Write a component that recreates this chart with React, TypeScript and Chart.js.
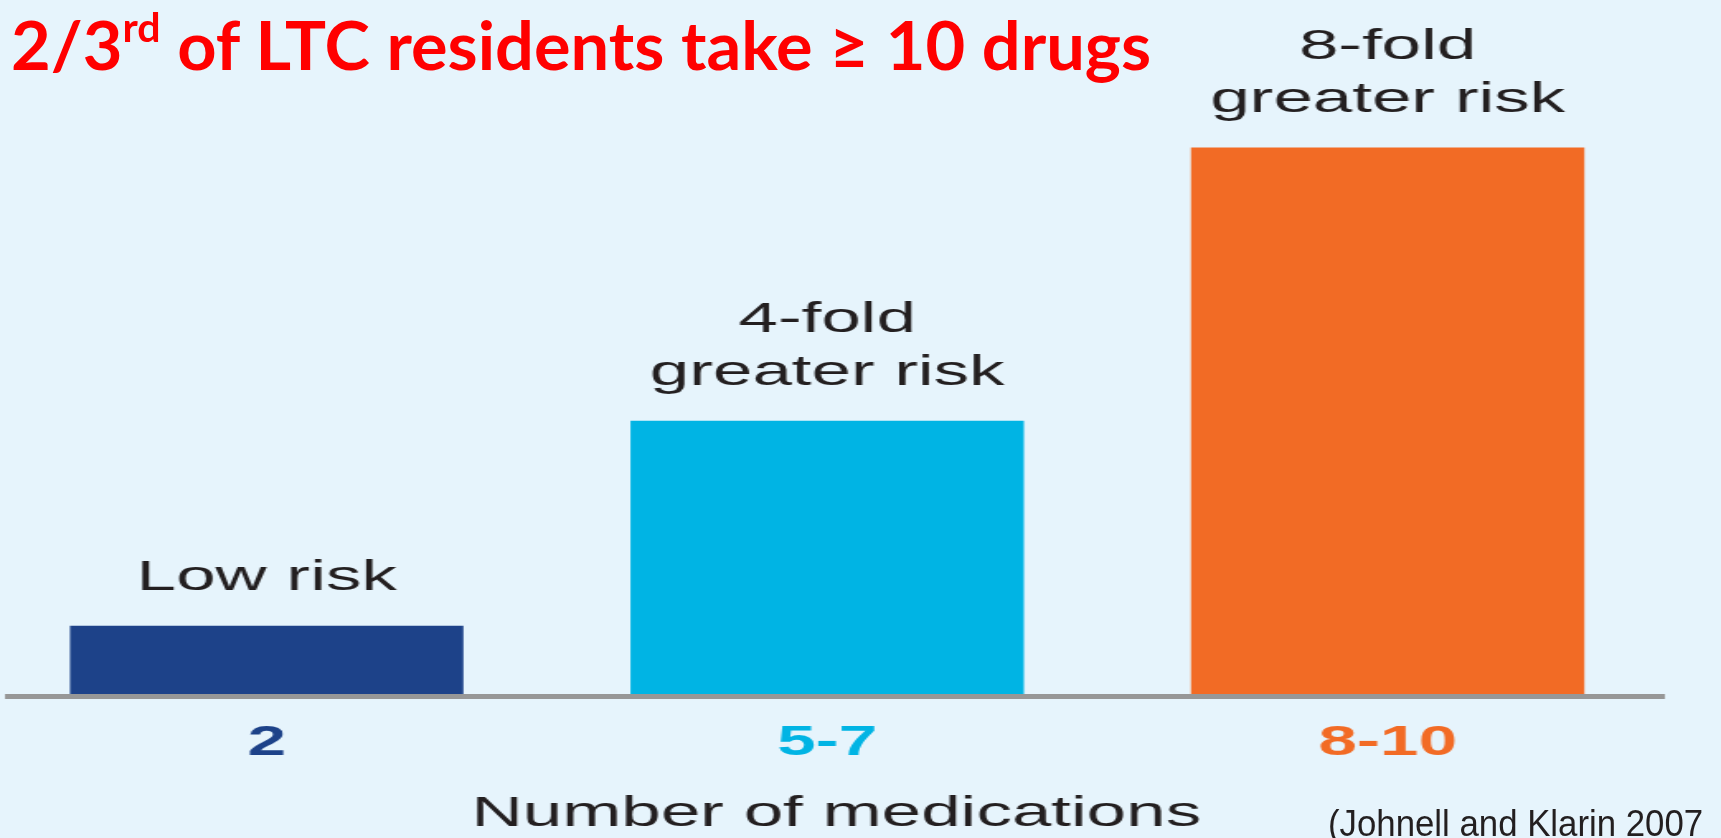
import React, { useEffect, useRef } from "react";
import { Chart, registerables } from "chart.js";

Chart.register(...registerables);

// Number-of-medications groups and their relative fall risk (fold increase)
const categories = ["2", "5-7", "8-10"];
const relativeRisk = [1, 4, 8];
const riskCaptions = [["Low risk"], ["4-fold", "greater risk"], ["8-fold", "greater risk"]];
const barColors = ["#1d4289", "#00b4e4", "#f26b25"];
const xAxisTitle = "Number of medications";
const citation = "(Johnell and Klarin 2007";

const PAGE_W = 1721;
const PAGE_H = 838;
// the figure is drawn narrow and widened on screen
const STRETCH = 1.65;
const CANVAS_W = Math.round(PAGE_W / STRETCH);

const SANS = "'Liberation Sans', Arial, Helvetica, sans-serif";

// Captions stacked above each bar, anchored to the bar tops
const barCaptions = {
  id: "barCaptions",
  afterDatasetsDraw(chart: any) {
    const meta = chart.getDatasetMeta(0);
    const ctx = chart.ctx as CanvasRenderingContext2D;
    ctx.save();
    ctx.font = `43px ${SANS}`;
    ctx.fillStyle = "#231f20";
    ctx.textAlign = "center";
    ctx.textBaseline = "alphabetic";
    meta.data.forEach((bar: any, i: number) => {
      const lines = riskCaptions[i];
      const { x, y } = bar.getProps(["x", "y"], true);
      lines.forEach((line, j) => {
        const lineY = y - 36 - (lines.length - 1 - j) * 53;
        ctx.fillText(line, x, lineY);
      });
    });
    ctx.restore();
  },
};

function FallRiskChart() {
  const canvasRef = useRef<HTMLCanvasElement | null>(null);

  useEffect(() => {
    const canvas = canvasRef.current;
    if (!canvas) return;
    const chart = new Chart(canvas, {
      type: "bar",
      data: {
        datasets: [
          {
            data: categories.map((_, i) => ({ x: i, y: relativeRisk[i] })),
            backgroundColor: barColors,
            borderWidth: 0,
            categoryPercentage: 1,
            barPercentage: 0.702,
          },
        ],
      },
      options: {
        animation: false,
        responsive: false,
        devicePixelRatio: 1,
        layout: { padding: { left: 5.45, right: 34.8, top: 11, bottom: 0 } },
        plugins: {
          legend: { display: false },
          tooltip: { enabled: false },
          title: { display: false },
        },
        scales: {
          x: {
            type: "linear",
            bounds: "data",
            offset: false,
            min: -0.4597,
            max: 2.4923,
            afterBuildTicks: (axis: any) => {
              axis.ticks = categories.map((_, i) => ({ value: i }));
            },
            grid: { display: false, drawTicks: false, offset: false },
            border: { display: true, color: "#979797", width: 5, z: 1 },
            ticks: {
              autoSkip: false,
              maxRotation: 0,
              padding: 22.05,
              callback: (v: any) => categories[Number(v)] ?? "",
              color: (c: any) => barColors[c.index] ?? "#231f20",
              font: { family: SANS, size: 42, weight: "bold" },
            },
            title: {
              display: true,
              text: xAxisTitle,
              color: "#231f20",
              font: { family: SANS, size: 43, lineHeight: 1 },
              padding: { top: 2, bottom: 2 },
            },
          },
          y: { display: false, min: -0.0366, max: 10 },
        },
      },
      plugins: [barCaptions],
    } as any);
    return () => chart.destroy();
  }, []);

  return (
    <canvas
      ref={canvasRef}
      width={CANVAS_W}
      height={PAGE_H}
      style={{ position: "absolute", left: 0, top: 0, width: PAGE_W, height: PAGE_H, display: "block" }}
    />
  );
}

export default function App() {
  return (
    <div
      style={{
        position: "fixed",
        left: 0,
        top: 0,
        width: PAGE_W,
        height: PAGE_H,
        overflow: "hidden",
        background: "#e6f4fc",
      }}
    >
      <FallRiskChart />
      <div
        style={{
          position: "absolute",
          left: 11,
          top: 12,
          fontFamily: "Lato, 'Open Sans', sans-serif",
          fontWeight: 700,
          fontSize: 66,
          lineHeight: "66px",
          color: "#ff0000",
          whiteSpace: "nowrap",
          transformOrigin: "left top",
          transform: "scaleX(1.038)",
        }}
      >
        2/3<span style={{ fontSize: "0.6em", position: "relative", top: "-0.7em" }}>rd</span> of LTC residents take ≥ 10 drugs
      </div>
      <div
        style={{
          position: "absolute",
          left: 1328,
          top: 805,
          fontFamily: SANS,
          fontSize: 37,
          lineHeight: "37px",
          color: "#231f20",
          whiteSpace: "nowrap",
          transformOrigin: "left top",
          transform: "scaleX(0.94)",
        }}
      >
        {citation}
      </div>
    </div>
  );
}
